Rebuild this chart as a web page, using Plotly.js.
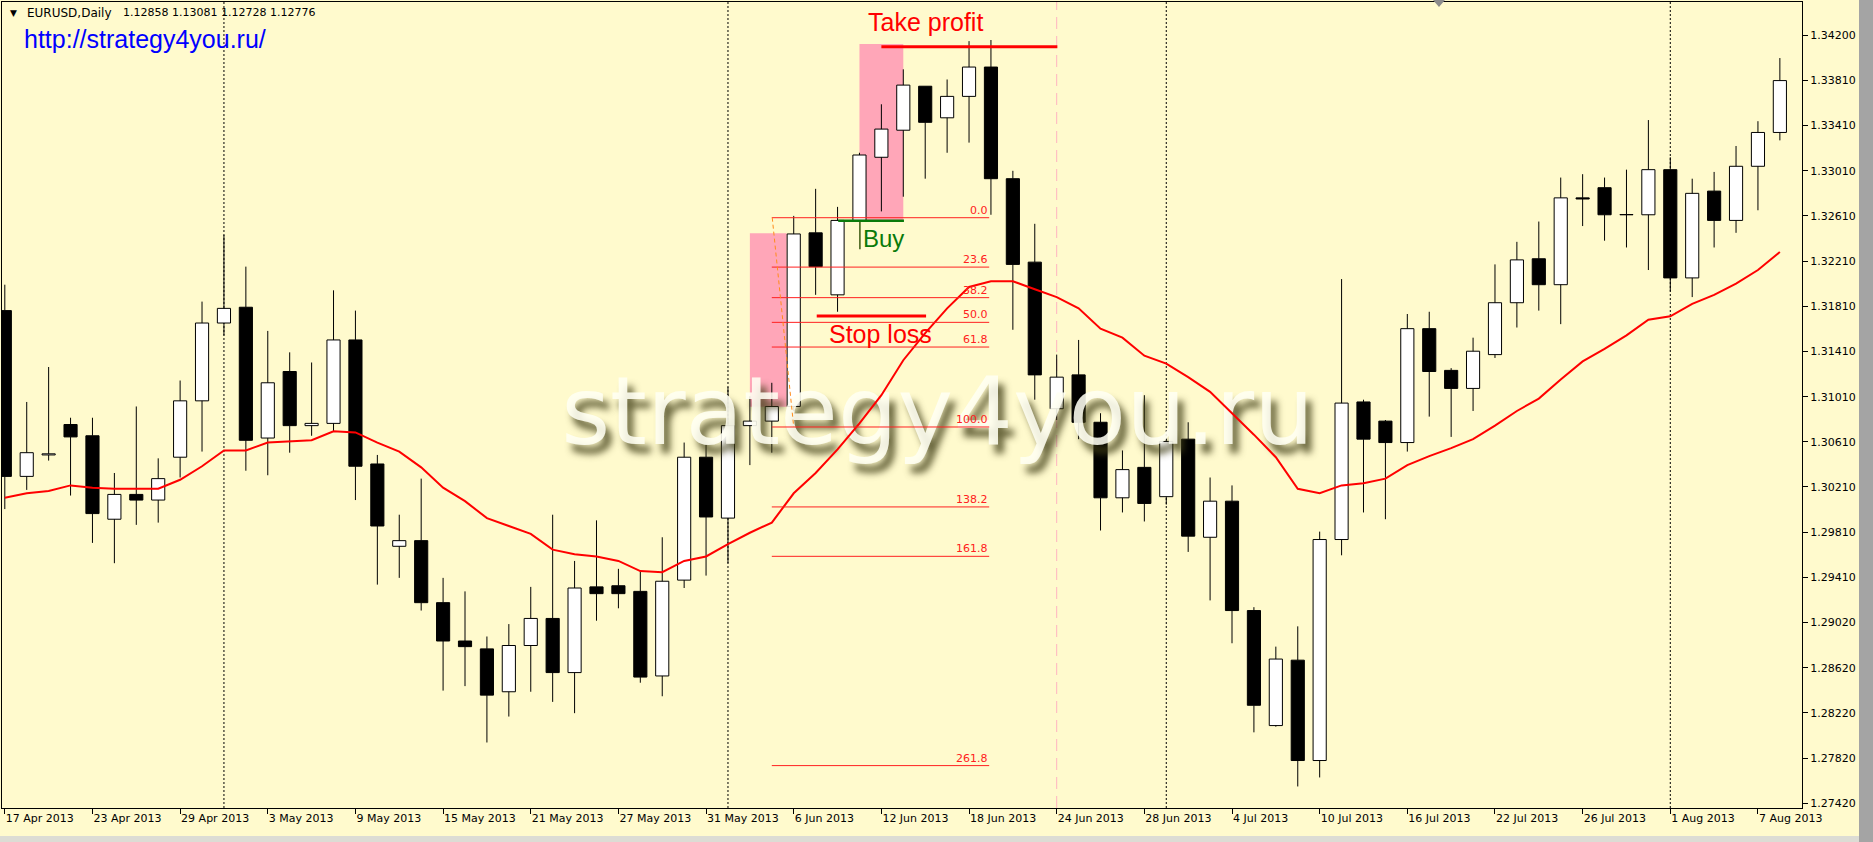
<!DOCTYPE html>
<html><head><meta charset="utf-8">
<script src="https://cdn.plot.ly/plotly-3.0.1.min.js"></script>
<style>html,body{margin:0;padding:0;background:#FFFACD;overflow:hidden}#chart{width:1873px;height:842px}</style>
</head><body><div id="chart"></div>
<script>
// ---- data (EURUSD Daily, 17 Apr 2013 .. 8 Aug 2013, one bar per trading day) ----
const openP  = [1.3179,1.3032,1.3051,1.3078,1.3068,1.2994,1.3016,1.3011,1.3049,1.3099,
                1.3168,1.3182,1.3066,1.3125,1.3077,1.3079,1.3153,1.3043,1.2970,1.2975,
                1.2920,1.2886,1.2879,1.2841,1.2882,1.2906,1.2858,1.2934,1.2935,1.2930,
                1.2855,1.2940,1.3049,1.2995,1.3077,1.3081,1.3094,1.3248,1.3193,1.3259,
                1.3315,1.3339,1.3378,1.3350,1.3369,1.3395,1.3296,1.3222,1.3092,1.3122,
                1.3080,1.3013,1.3040,1.3014,1.3065,1.2978,1.3010,1.2913,1.2811,1.2869,
                1.2780,1.2976,1.3098,1.3081,1.3062,1.3163,1.3126,1.3110,1.3140,1.3186,
                1.3225,1.3202,1.3279,1.3288,1.3264,1.3264,1.3304,1.3208,1.3285,1.3259,
                1.3307,1.3337];
const highP  = [1.3202,1.3098,1.3129,1.3084,1.3084,1.3035,1.3094,1.3048,1.3117,1.3187,
                1.3246,1.3218,1.3161,1.3142,1.3133,1.3197,1.3179,1.3051,1.2998,1.3030,
                1.2942,1.2930,1.2890,1.2901,1.2934,1.2998,1.2957,1.2993,1.2950,1.2948,
                1.2978,1.3062,1.3060,1.3111,1.3103,1.3115,1.3263,1.3287,1.3271,1.3319,
                1.3362,1.3393,1.3378,1.3384,1.3418,1.3419,1.3303,1.3256,1.3140,1.3153,
                1.3088,1.3055,1.3104,1.3065,1.3080,1.3031,1.3024,1.2916,1.2881,1.2899,
                1.2983,1.3207,1.3100,1.3082,1.3176,1.3178,1.3128,1.3155,1.3220,1.3240,
                1.3258,1.3297,1.3300,1.3297,1.3304,1.3348,1.3315,1.3296,1.3302,1.3325,
                1.3347,1.3403];
const lowP   = [1.3003,1.3020,1.3046,1.3015,1.2973,1.2955,1.2989,1.2991,1.3031,1.3054,
                1.3157,1.3037,1.3033,1.3053,1.3068,1.3072,1.3011,1.2936,1.2942,1.2913,
                1.2842,1.2846,1.2796,1.2819,1.2841,1.2832,1.2822,1.2904,1.2915,1.2849,
                1.2837,1.2933,1.2944,1.2955,1.3042,1.3053,1.3090,1.3193,1.3178,1.3259,
                1.3267,1.3280,1.3296,1.3319,1.3328,1.3264,1.3162,1.3100,1.3082,1.3065,
                1.2984,1.3000,1.2992,1.3007,1.2965,1.2922,1.2884,1.2805,1.2810,1.2757,
                1.2765,1.2962,1.3000,1.2994,1.3054,1.3085,1.3067,1.3090,1.3137,1.3164,
                1.3179,1.3167,1.3254,1.3241,1.3235,1.3215,1.3196,1.3191,1.3235,1.3248,
                1.3268,1.3330];
const closeP = [1.3032,1.3053,1.3052,1.3067,1.2999,1.3016,1.3011,1.3030,1.3099,1.3168,
                1.3181,1.3064,1.3115,1.3077,1.3079,1.3153,1.3041,1.2988,1.2975,1.2920,
                1.2886,1.2881,1.2838,1.2882,1.2906,1.2858,1.2933,1.2928,1.2928,1.2854,
                1.2939,1.3049,1.2996,1.3077,1.3081,1.3094,1.3247,1.3218,1.3259,1.3317,
                1.3340,1.3379,1.3346,1.3369,1.3395,1.3296,1.3220,1.3122,1.3120,1.3080,
                1.3013,1.3038,1.3008,1.3063,1.2979,1.3010,1.2913,1.2829,1.2870,1.2780,
                1.2976,1.3097,1.3065,1.3062,1.3163,1.3125,1.3110,1.3143,1.3186,1.3224,
                1.3202,1.3279,1.3278,1.3264,1.3264,1.3304,1.3208,1.3283,1.3259,1.3307,
                1.3337,1.3383];
const maValues = [1.3013,1.3017,1.3019,1.3024,1.3022,1.3021,1.3021,1.3021,1.3029,1.3041,
                  1.3055,1.3055,1.3062,1.3063,1.3064,1.3072,1.3071,1.3062,1.3054,1.3040,
                  1.3022,1.3010,1.2995,1.2988,1.2981,1.2967,1.2963,1.2961,1.2957,1.2948,
                  1.2947,1.2957,1.2961,1.2972,1.2982,1.2991,1.3017,1.3035,1.3056,1.3079,
                  1.3104,1.3135,1.3159,1.3181,1.3200,1.3205,1.3205,1.3198,1.3191,1.3181,
                  1.3163,1.3155,1.3139,1.3132,1.3120,1.3107,1.3088,1.3069,1.3049,1.3021,
                  1.3017,1.3024,1.3026,1.3030,1.3042,1.3050,1.3057,1.3065,1.3077,1.3090,
                  1.3101,1.3118,1.3134,1.3145,1.3157,1.3171,1.3174,1.3185,1.3193,1.3203,
                  1.3215,1.3231];
const tickIdx = [0,4,8,12,16,20,24,28,32,36,40,44,48,52,56,60,64,68,72,76,80];
const tickLabels = ['17 Apr 2013','23 Apr 2013','29 Apr 2013','3 May 2013','9 May 2013','15 May 2013',
                    '21 May 2013','27 May 2013','31 May 2013','6 Jun 2013','12 Jun 2013','18 Jun 2013',
                    '24 Jun 2013','28 Jun 2013','4 Jul 2013','10 Jul 2013','16 Jul 2013','22 Jul 2013',
                    '26 Jul 2013','1 Aug 2013','7 Aug 2013'];
const priceTicks = [1.27420,1.27821,1.28222,1.28622,1.29023,1.29424,1.29825,1.30226,1.30626,
                    1.31027,1.31428,1.31829,1.32230,1.32630,1.33031,1.33432,1.33833,1.34234];
const priceTickText = ['1.27420','1.27820','1.28220','1.28620','1.29020','1.29410','1.29810','1.30210','1.30610',
                       '1.31010','1.31410','1.31810','1.32210','1.32610','1.33010','1.33410','1.33810','1.34200'];
const fibLevels = ['0.0','23.6','38.2','50.0','61.8','100.0','138.2','161.8','261.8'];
const fibPrices = [1.32614,1.32176,1.31905,1.31686,1.31467,1.30758,1.30049,1.29611,1.27755];
const separatorIdx = [10,33,53,76];
const takeProfit = 1.34131, buyPrice = 1.32588, stopLoss = 1.31742;
const symbolText = 'EURUSD,Daily';
const quoteText = '1.12858 1.13081 1.12728 1.12776';
const siteUrl = 'http://strategy4you.ru/';
const watermark = 'strategy4you.ru';

// ---- build traces ----
const n = openP.length;
const idx = openP.map((_, i) => i);
const bodyBase = [], bodyH = [], bodyCol = [];
const wx = [], wy = [];
for (let i = 0; i < n; i++) {
  const top = Math.max(openP[i], closeP[i]), bot = Math.min(openP[i], closeP[i]);
  bodyBase.push(bot);
  bodyH.push(Math.max(top - bot, 0.00002));
  bodyCol.push(closeP[i] >= openP[i] ? '#ffffff' : '#000000');
  if (highP[i] > top) { wx.push(i, i, null); wy.push(top, highP[i], null); }
  if (lowP[i] < bot) { wx.push(i, i, null); wy.push(bot, lowP[i], null); }
}
const traces = [
  {type:'bar', x: idx, base: bodyBase, y: bodyH, width: 0.6,
   marker:{color: bodyCol, line:{color:'#000000', width:1}}, hoverinfo:'skip', showlegend:false},
  {type:'scatter', mode:'lines', x: wx, y: wy, line:{color:'#000000', width:1},
   hoverinfo:'skip', showlegend:false, connectgaps:false},
  {type:'scatter', mode:'text', x:[42.56], y:[1.30820], text:[watermark], textposition:'middle center',
   textfont:{family:'DejaVu Sans', size:94, color:'rgba(255,255,242,0.88)',
             shadow:'6px 9px 7px rgba(65,62,22,0.9)'},
   hoverinfo:'skip', showlegend:false, cliponaxis:false},
  {type:'scatter', mode:'lines', x: idx, y: maValues, line:{color:'#ff0000', width:2},
   hoverinfo:'skip', showlegend:false}
];

// ---- shapes ----
const px = v => (v - 2) / 1800;      // pixel -> paper x
const py = v => (808 - v) / 806;     // pixel -> paper y
const shapes = [];
separatorIdx.forEach(s => shapes.push({type:'line', layer:'below', xref:'x', yref:'paper', x0:s, x1:s, y0:0, y1:1,
  line:{color:'#000000', width:1, dash:'2px,2px'}}));
shapes.push({type:'line', layer:'below', xref:'x', yref:'paper', x0:48, x1:48, y0:0, y1:1,
  line:{color:'#ffb3c1', width:1, dash:'12px,7px'}});
shapes.push({type:'rect', layer:'below', xref:'x', yref:'y', x0:34.0, x1:35.68, y0:1.30938, y1:1.32476,
  fillcolor:'#ffa6b8', line:{width:0}});
shapes.push({type:'rect', layer:'below', xref:'x', yref:'y', x0:39.0, x1:41.0, y0:1.32588, y1:1.34155,
  fillcolor:'#ffa6b8', line:{width:0}});
fibPrices.forEach(p => shapes.push({type:'line', xref:'x', yref:'y', x0:35.0, x1:44.92, y0:p, y1:p,
  line:{color:'#ff2020', width:1}}));
shapes.push({type:'line', xref:'x', yref:'y', x0:35.02, x1:36.0, y0:fibPrices[0], y1:fibPrices[5],
  line:{color:'#ff8c1a', width:1, dash:'4px,3px'}});
shapes.push({type:'line', xref:'x', yref:'y', x0:40.0, x1:48.03, y0:takeProfit, y1:takeProfit,
  line:{color:'#ff0000', width:3}});
shapes.push({type:'line', xref:'x', yref:'y', x0:38.03, x1:41.03, y0:buyPrice, y1:buyPrice,
  line:{color:'#0a7a0a', width:2.5}});
shapes.push({type:'line', xref:'x', yref:'y', x0:39.02, x1:39.02, y0:1.32579, y1:1.32334,
  line:{color:'#3d5a10', width:1.5}});
shapes.push({type:'line', xref:'x', yref:'y', x0:37.05, x1:42.04, y0:stopLoss, y1:stopLoss,
  line:{color:'#ff0000', width:3}});
// window chrome
shapes.push({type:'rect', xref:'paper', yref:'paper', x0:px(1859), x1:px(1874), y0:py(843), y1:py(-1),
  fillcolor:'#a4a4a4', line:{width:0}});
shapes.push({type:'rect', xref:'paper', yref:'paper', x0:px(-1), x1:px(1859), y0:py(843), y1:py(836),
  fillcolor:'#dcdcd4', line:{width:0}});
shapes.push({type:'path', xref:'paper', yref:'paper',
  path:`M${px(1433)},${py(0)} L${px(1445)},${py(0)} L${px(1439)},${py(7)} Z`,
  fillcolor:'#8c8c8c', line:{width:0}});

// ---- annotations ----
const ann = [];
fibLevels.forEach((lv, i) => ann.push({xref:'x', yref:'y', x:44.92, y:fibPrices[i], xanchor:'right', yanchor:'bottom',
  text: lv, showarrow:false, font:{family:'DejaVu Sans', size:11, color:'#ff2020'}, borderpad:0}));
ann.push({xref:'x', yref:'y', x:42.02, y:1.34349, xanchor:'center', yanchor:'middle', text:'Take profit',
  showarrow:false, font:{family:'Liberation Sans, Arial', size:25, color:'#ff0000'}});
ann.push({xref:'x', yref:'y', x:39.06, y:1.32431, xanchor:'left', yanchor:'middle', text:'Buy',
  showarrow:false, font:{family:'Liberation Sans, Arial', size:24, color:'#0a7a0a'}});
ann.push({xref:'x', yref:'y', x:39.98, y:1.31585, xanchor:'center', yanchor:'middle', text:'Stop loss',
  showarrow:false, font:{family:'Liberation Sans, Arial', size:25, color:'#ff0000'}});
ann.push({xref:'paper', yref:'paper', x:px(8), y:py(12.7), xanchor:'left', yanchor:'middle', text:'▼',
  showarrow:false, font:{family:'DejaVu Sans', size:9, color:'#000000'}});
ann.push({xref:'paper', yref:'paper', x:px(25), y:py(12.7), xanchor:'left', yanchor:'middle', text:symbolText,
  showarrow:false, font:{family:'DejaVu Sans', size:12, color:'#000000'}});
ann.push({xref:'paper', yref:'paper', x:px(121), y:py(12.7), xanchor:'left', yanchor:'middle', text:quoteText,
  showarrow:false, font:{family:'DejaVu Sans', size:11, color:'#000000'}});
ann.push({xref:'paper', yref:'paper', x:px(22), y:py(39), xanchor:'left', yanchor:'middle', text:siteUrl,
  showarrow:false, font:{family:'Liberation Sans, Arial', size:25, color:'#0000ff'}});

const layout = {
  width:1873, height:842,
  margin:{l:2, r:71, t:2, b:34, pad:0},
  paper_bgcolor:'#FFFACD', plot_bgcolor:'#FFFACD',
  showlegend:false, barmode:'overlay', dragmode:false,
  xaxis:{type:'linear', range:[-0.128, 82.01], tickmode:'array', tickvals:tickIdx, ticktext:tickLabels,
    ticks:'outside', ticklen:5, tickwidth:1, tickcolor:'#000000', showgrid:false, zeroline:false,
    showline:true, linecolor:'#000000', linewidth:1, mirror:true, ticklabelposition:'outside right',
    tickfont:{family:'DejaVu Sans', size:11, color:'#000000'}, fixedrange:true},
  yaxis:{side:'right', range:[1.27379, 1.34527], tickmode:'array', tickvals:priceTicks, ticktext:priceTickText,
    ticks:'outside', ticklen:5, tickwidth:1, tickcolor:'#000000', showgrid:false, zeroline:false,
    showline:true, linecolor:'#000000', linewidth:1, mirror:true,
    tickfont:{family:'DejaVu Sans', size:11, color:'#000000'}, fixedrange:true},
  shapes: shapes, annotations: ann
};
Plotly.newPlot('chart', traces, layout, {displayModeBar:false, staticPlot:true});
</script></body></html>
